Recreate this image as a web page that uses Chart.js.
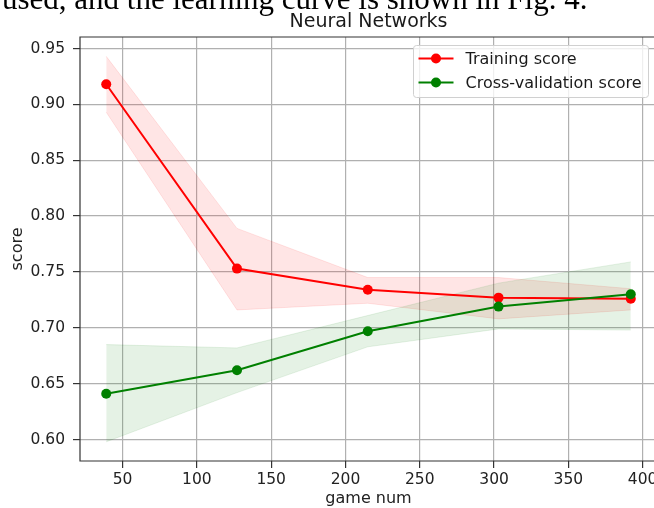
<!DOCTYPE html>
<html>
<head>
<meta charset="utf-8">
<script src="https://cdn.jsdelivr.net/npm/chart.js@4.4.1/dist/chart.umd.min.js"></script>
<style>
  html, body { margin: 0; padding: 0; background: #fff; overflow: hidden; }
  #wrap { position: relative; width: 654px; height: 508px; overflow: hidden; }
  #graph { position: absolute; left: 0; top: 0; }
</style>
</head>
<body>
<div id="wrap"><canvas id="graph" width="670" height="508" style="width:670px;height:508px"></canvas></div>
<script>
// learning curve values
const gameNum = [39, 127, 215, 303, 392];
const trainScore = [0.918, 0.753, 0.734, 0.727, 0.726];
const trainUpper = [0.943, 0.789, 0.745, 0.745, 0.735];
const trainLower = [0.893, 0.716, 0.722, 0.708, 0.716];
const cvScore = [0.641, 0.662, 0.697, 0.719, 0.730];
const cvUpper = [0.685, 0.682, 0.711, 0.740, 0.759];
const cvLower = [0.598, 0.642, 0.683, 0.699, 0.698];
const xTicks = [50, 100, 150, 200, 250, 300, 350, 400];
const yTicks = [0.60, 0.65, 0.70, 0.75, 0.80, 0.85, 0.90, 0.95];

const FONT = '"DejaVu Sans", sans-serif';

function pts(ys) {
    return gameNum.map((x, i) => ({ x: x, y: ys[i] }));
}

function band(ys, color, fill, order) {
    return { data: pts(ys), fill: fill, backgroundColor: color, borderColor: color,
             borderWidth: 1, pointRadius: 0, order: order };
}

function curve(label, ys, color, order) {
    return { label: label, data: pts(ys), borderColor: color, backgroundColor: color,
             borderWidth: 2, pointRadius: 5, pointBackgroundColor: color,
             pointBorderWidth: 0, fill: false, order: order };
}

// spines over the grid (right one is cut off by the picture)
const framePlugin = {
    id: 'frame',
    afterDatasetsDraw(chart) {
        const a = chart.chartArea, ctx = chart.ctx;
        ctx.save();
        ctx.strokeStyle = '#333';
        ctx.lineWidth = 1.2;
        ctx.beginPath();
        ctx.moveTo(chart.width, a.top);
        ctx.lineTo(a.left, a.top);
        ctx.lineTo(a.left, a.bottom);
        ctx.lineTo(chart.width, a.bottom);
        ctx.stroke();
        ctx.restore();
    }
};

// title, the cut-off caption line above it, and the framed legend
const textPlugin = {
    id: 'texts',
    afterDraw(chart) {
        const a = chart.chartArea, ctx = chart.ctx;
        ctx.save();
        ctx.fillStyle = '#000';
        ctx.textBaseline = 'alphabetic';
        ctx.textAlign = 'left';
        ctx.font = '31px "Liberation Serif", serif';
        ctx.fillText('used, and the learning curve is shown in Fig. 4.', 2, 9);

        ctx.fillStyle = '#1a1a1a';
        ctx.textAlign = 'center';
        ctx.font = '19px ' + FONT;
        ctx.fillText('Neural Networks', (a.left + a.right) / 2, 27);

        const bx = 413.5, by = a.top + 8.5, bw = 235, bh = 52;
        ctx.beginPath();
        ctx.roundRect(bx, by, bw, bh, 3);
        ctx.fillStyle = 'rgba(255,255,255,0.8)';
        ctx.fill();
        ctx.strokeStyle = '#d0d0d0';
        ctx.lineWidth = 1;
        ctx.stroke();

        const items = chart.data.datasets.filter(d => d.label);
        ctx.font = '16px ' + FONT;
        ctx.textAlign = 'left';
        ctx.textBaseline = 'middle';
        items.forEach((d, i) => {
            const y = by + 13 + i * 24;
            ctx.strokeStyle = d.borderColor;
            ctx.lineWidth = 2;
            ctx.beginPath();
            ctx.moveTo(bx + 5, y);
            ctx.lineTo(bx + 40, y);
            ctx.stroke();
            ctx.fillStyle = d.borderColor;
            ctx.beginPath();
            ctx.arc(bx + 22.5, y, 5, 0, Math.PI * 2);
            ctx.fill();
            ctx.fillStyle = '#1a1a1a';
            ctx.fillText(d.label, bx + 52, y + 1);
        });
        ctx.restore();
    }
};

const tickFont = { family: FONT, size: 15.5 };
const gridOpts = { color: '#b0b0b0', lineWidth: 1.2, tickLength: 7, tickColor: '#333', tickWidth: 1.2 };

new Chart(document.getElementById('graph'), {
    type: 'line',
    data: {
        datasets: [
            band(trainUpper, 'rgba(255,0,0,0.1)', '+1', 3),
            band(trainLower, 'rgba(255,0,0,0.1)', false, 3),
            band(cvUpper, 'rgba(0,128,0,0.1)', '+1', 2),
            band(cvLower, 'rgba(0,128,0,0.1)', false, 2),
            curve('Training score', trainScore, '#ff0000', 1),
            curve('Cross-validation score', cvScore, '#008000', 0)
        ]
    },
    options: {
        responsive: false,
        animation: false,
        layout: { padding: { left: 0, top: 37, right: 13, bottom: 0 } },
        elements: { line: { tension: 0 } },
        plugins: { legend: { display: false }, tooltip: { enabled: false }, title: { display: false } },
        scales: {
            x: {
                type: 'linear', min: 21.35, max: 409.65,
                afterBuildTicks: s => { s.ticks = xTicks.map(v => ({ value: v })); },
                afterFit: s => { s.height = 47; },
                ticks: { font: tickFont, color: '#222', padding: 3, maxRotation: 0, autoSkip: false,
                         callback: v => String(v) },
                grid: gridOpts,
                border: { display: false },
                title: { display: true, text: 'game num', color: '#222',
                         font: { family: FONT, size: 16 }, padding: { top: 0, bottom: 0 } }
            },
            y: {
                type: 'linear', min: 0.5808, max: 0.9603,
                afterBuildTicks: s => { s.ticks = yTicks.map(v => ({ value: v })); },
                afterFit: s => { s.width = 80; },
                ticks: { font: tickFont, color: '#222', padding: 8, callback: v => v.toFixed(2) },
                grid: gridOpts,
                border: { display: false },
                title: { display: true, text: 'score', color: '#222',
                         font: { family: FONT, size: 16 }, padding: { top: 8, bottom: 0 } }
            }
        }
    },
    plugins: [framePlugin, textPlugin]
});
</script>
</body>
</html>
